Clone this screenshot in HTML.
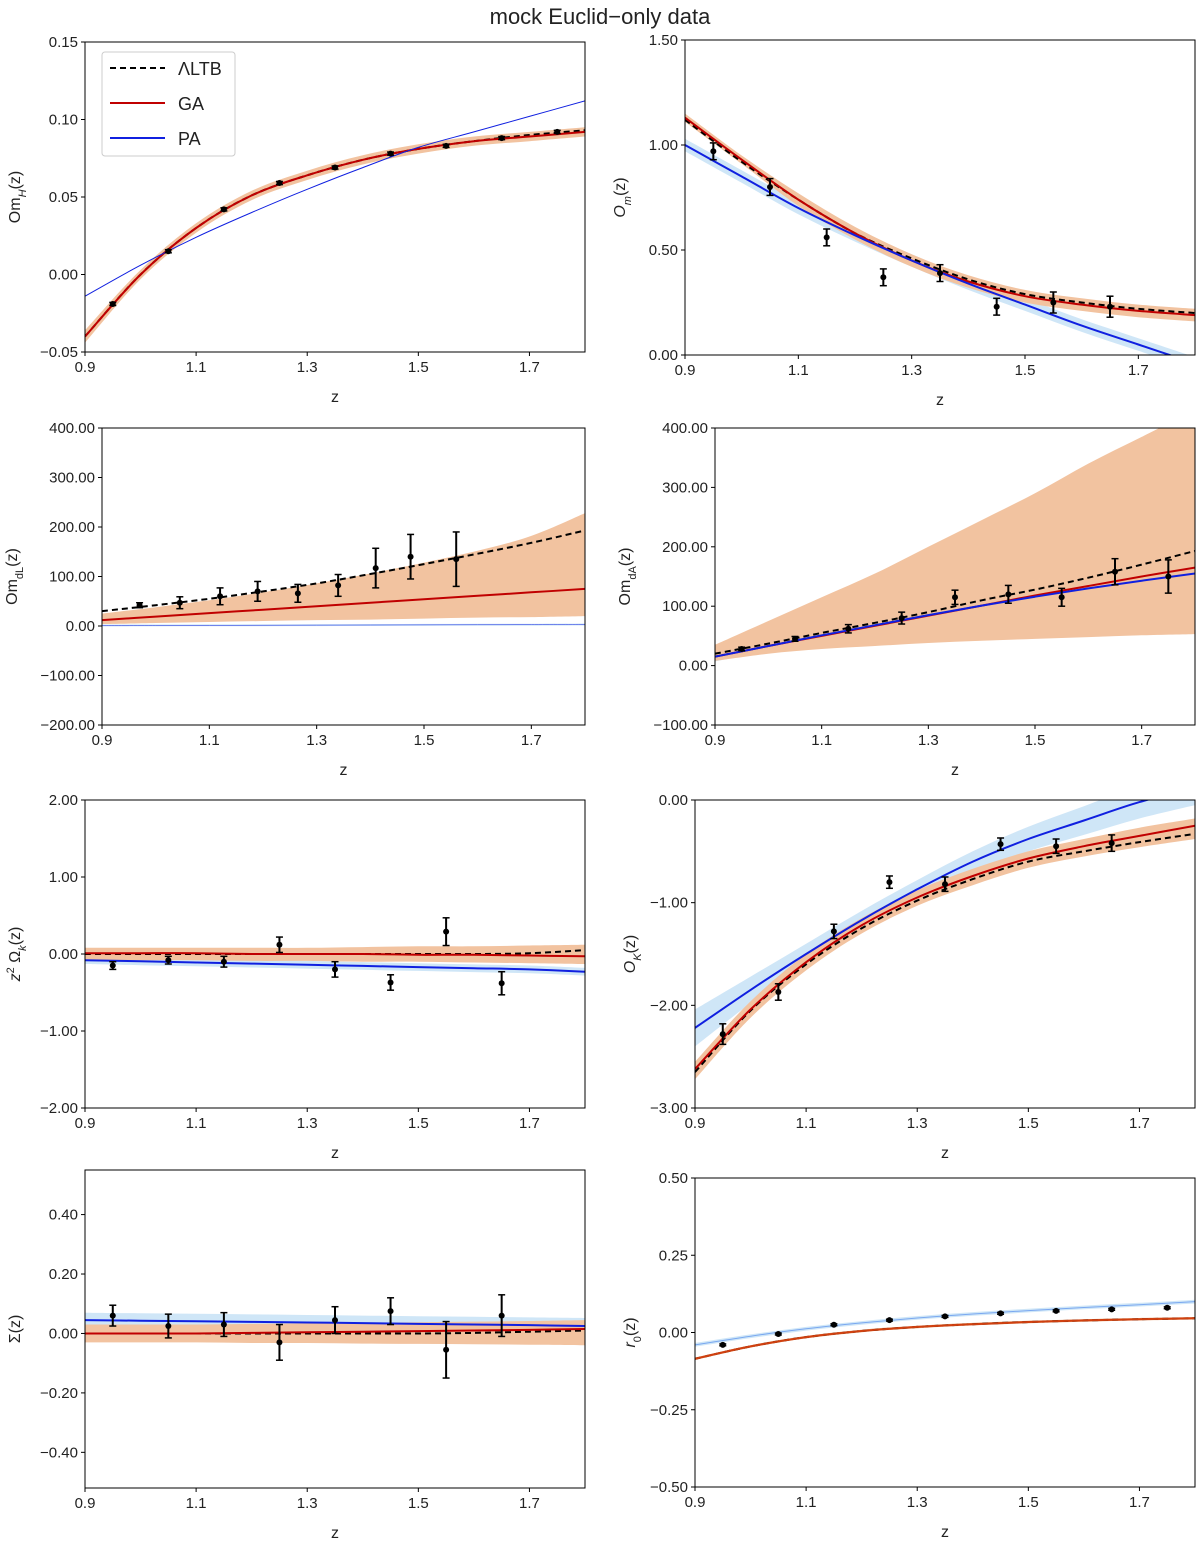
<!DOCTYPE html>
<html><head><meta charset="utf-8"><style>
body{margin:0;background:#fff;font-family:"Liberation Sans",sans-serif}
svg text{font-family:"Liberation Sans","DejaVu Sans",sans-serif;fill:#222}
</style></head><body>
<svg id="fig" width="1200" height="1540" viewBox="0 0 1200 1540" xmlns="http://www.w3.org/2000/svg">
<text x="600" y="24" text-anchor="middle" font-size="22">mock Euclid−only data</text>
</svg>
<script>
const Zg=[0.9,1.0,1.1,1.2,1.3,1.4,1.5,1.6,1.7,1.8];
const Zp=[0.95,1.05,1.15,1.25,1.35,1.45,1.55,1.65,1.75];
// Panel 1 OmH
const p1_ltb=[-0.040,0.000,0.030,0.051,0.064,0.074,0.081,0.086,0.090,0.093];
const p1_ga=[-0.040,0.000,0.030,0.051,0.064,0.074,0.081,0.086,0.089,0.092];
const p1_pa=[-0.014,0.006,0.024,0.040,0.055,0.069,0.082,0.092,0.102,0.112];
const p1_gaLo=[-0.044,-0.003,0.027,0.048,0.061,0.071,0.078,0.083,0.086,0.089];
const p1_gaHi=[-0.036,0.003,0.033,0.054,0.067,0.077,0.084,0.089,0.092,0.095];
const p1_pz=Zp;
const p1_pv=[-0.019,0.015,0.042,0.059,0.069,0.078,0.083,0.088,0.092];
const p1_pe=[0.001,0.001,0.001,0.001,0.001,0.001,0.001,0.001,0.001];
// Panel 2 Om
const p2_ltb=[1.12,0.92,0.74,0.58,0.46,0.36,0.29,0.25,0.22,0.20];
const p2_ga=[1.13,0.93,0.74,0.58,0.45,0.35,0.28,0.24,0.21,0.19];
const p2_pa=[1.00,0.85,0.70,0.57,0.45,0.34,0.24,0.14,0.05,-0.04];
const p2_gaLo=[1.11,0.91,0.71,0.55,0.42,0.32,0.25,0.21,0.18,0.16];
const p2_gaHi=[1.15,0.95,0.77,0.61,0.48,0.38,0.31,0.27,0.24,0.22];
const p2_pz=Zp.slice(0,8);
const p2_pv=[0.97,0.80,0.56,0.37,0.39,0.23,0.25,0.23];
const p2_pe=[0.04,0.04,0.04,0.04,0.04,0.04,0.05,0.05];
// Panel 3 OmdL
const p3_ltb=[30,42,55,70,86,105,125,146,168,193];
const p3_ga=[12,19,26,33,40,47,54,61,68,75];
const p3_pa=[1,1.2,1.4,1.6,1.8,2,2.2,2.4,2.6,3];
const p3_gaLo=[4,6,8,10,12,13,15,17,18,20];
const p3_gaHi=[25,38,52,68,86,106,128,152,182,228];
const p3_pz=[0.97,1.045,1.12,1.19,1.265,1.34,1.41,1.475,1.56];
const p3_pv=[42,47,60,70,66,82,117,140,135];
const p3_pe=[5,12,17,20,18,22,40,45,55];
// Panel 4 OmdA
const p4_ltb=[20,37,55,72,90,110,128,148,170,193];
const p4_ga=[15,33,50,67,84,101,118,134,150,165];
const p4_pa=[15,33,51,68,85,101,116,130,143,155];
const p4_gaLo=[8,20,28,33,38,42,45,48,51,53];
const p4_gaHi=[35,75,115,155,200,245,290,340,385,430];
const p4_pz=Zp;
const p4_pv=[28,45,62,80,115,120,115,158,150];
const p4_pe=[3,4,7,10,12,15,15,22,28];
// Panel 5 z^2 Omega_k
const p5_ltb=[0,0,0,0,0,0,0,0,0.01,0.05];
const p5_ga=[0.01,0.01,0.01,0,0,0,-0.01,-0.01,-0.02,-0.03];
const p5_pa=[-0.08,-0.095,-0.11,-0.125,-0.14,-0.155,-0.17,-0.185,-0.2,-0.23];
const p5_gaLo=[-0.08,-0.08,-0.08,-0.09,-0.09,-0.1,-0.1,-0.11,-0.12,-0.13];
const p5_gaHi=[0.08,0.08,0.08,0.08,0.08,0.09,0.1,0.1,0.11,0.12];
const p5_pz=Zp.slice(0,8);
const p5_pv=[-0.15,-0.08,-0.10,0.12,-0.20,-0.37,0.29,-0.38];
const p5_pe=[0.05,0.05,0.07,0.10,0.10,0.10,0.18,0.15];
// Panel 6 OK
const p6_ltb=[-2.65,-2.05,-1.60,-1.25,-0.98,-0.77,-0.60,-0.50,-0.41,-0.33];
const p6_ga=[-2.62,-2.04,-1.58,-1.22,-0.95,-0.74,-0.57,-0.45,-0.35,-0.25];
const p6_pa=[-2.22,-1.85,-1.50,-1.17,-0.87,-0.60,-0.38,-0.20,-0.02,0.12];
const p6_gaLo=[-2.72,-2.12,-1.66,-1.30,-1.03,-0.83,-0.66,-0.55,-0.46,-0.38];
const p6_gaHi=[-2.55,-1.96,-1.50,-1.15,-0.88,-0.67,-0.50,-0.38,-0.27,-0.18];
const p6_paLo=[-2.40,-1.98,-1.60,-1.26,-0.96,-0.70,-0.50,-0.34,-0.18,-0.05];
const p6_paHi=[-2.04,-1.72,-1.40,-1.08,-0.78,-0.50,-0.26,-0.06,0.14,0.30];
const p6_pz=Zp.slice(0,8);
const p6_pv=[-2.28,-1.87,-1.28,-0.80,-0.82,-0.43,-0.45,-0.42];
const p6_pe=[0.10,0.08,0.07,0.06,0.07,0.06,0.07,0.08];
// Panel 7 Sigma
const p7_ltb=[0,0,0,0,0,0,0,0.002,0.006,0.01];
const p7_ga=[0,0,0,0.002,0.004,0.006,0.008,0.01,0.012,0.015];
const p7_pa=[0.045,0.043,0.041,0.039,0.037,0.035,0.032,0.03,0.028,0.025];
const p7_gaLo=[-0.03,-0.03,-0.03,-0.032,-0.032,-0.034,-0.035,-0.036,-0.038,-0.04];
const p7_gaHi=[0.03,0.03,0.03,0.032,0.034,0.036,0.038,0.04,0.042,0.045];
const p7_paLo=[0.02,0.018,0.016,0.014,0.012,0.01,0.008,0.006,0.004,0.002];
const p7_paHi=[0.07,0.068,0.066,0.064,0.062,0.06,0.058,0.056,0.054,0.052];
const p7_pz=Zp.slice(0,8);
const p7_pv=[0.06,0.025,0.03,-0.03,0.045,0.075,-0.055,0.06];
const p7_pe=[0.035,0.04,0.04,0.06,0.045,0.045,0.095,0.07];
// Panel 8 r0
const p8_ltb=[-0.085,-0.045,-0.015,0.005,0.018,0.027,0.034,0.039,0.043,0.046];
const p8_ga=[-0.085,-0.045,-0.015,0.005,0.018,0.027,0.034,0.039,0.043,0.046];
const p8_pa=[-0.040,-0.012,0.012,0.031,0.047,0.060,0.071,0.081,0.090,0.100];
const p8_pz=Zp;
const p8_pv=[-0.04,-0.005,0.025,0.04,0.052,0.062,0.07,0.075,0.08];
const p8_pe=[0.003,0.003,0.003,0.003,0.003,0.003,0.003,0.003,0.003];

const NS="http://www.w3.org/2000/svg";
const fig=document.getElementById('fig');
function mk(tag,attrs,parent){const e=document.createElementNS(NS,tag);for(const k in attrs)e.setAttribute(k,attrs[k]);(parent||fig).appendChild(e);return e;}
function smooth(P,move){
 let d=(move?'M':'L')+P[0][0].toFixed(1)+','+P[0][1].toFixed(1);
 for(let i=0;i<P.length-1;i++){
  const p0=P[Math.max(0,i-1)],p1=P[i],p2=P[i+1],p3=P[Math.min(P.length-1,i+2)];
  const c1=[p1[0]+(p2[0]-p0[0])/6,p1[1]+(p2[1]-p0[1])/6];
  const c2=[p2[0]-(p3[0]-p1[0])/6,p2[1]-(p3[1]-p1[1])/6];
  d+=' C'+c1.map(v=>v.toFixed(1)).join(',')+' '+c2.map(v=>v.toFixed(1)).join(',')+' '+p2[0].toFixed(1)+','+p2[1].toFixed(1);
 }
 return d;
}
const xt=[0.9,1.1,1.3,1.5,1.7];
const panels=[
 {n:'omh',L:85,R:585,T:42,B:352,y0:-0.05,y1:0.15,yt:[-0.05,0,0.05,0.10,0.15],lab:'Om<tspan font-style="italic" baseline-shift="sub" font-size="11">H</tspan>(z)',ltb:p1_ltb,ga:p1_ga,pa:p1_pa,gl:p1_gaLo,gh:p1_gaHi,pz:p1_pz,pv:p1_pv,pe:p1_pe,paw:1,legend:true},
 {n:'om',L:685,R:1195,T:40,B:355,y0:0,y1:1.5,yt:[0,0.5,1.0,1.5],lab:'<tspan font-style="italic">O</tspan><tspan font-style="italic" baseline-shift="sub" font-size="11">m</tspan>(z)',ltb:p2_ltb,ga:p2_ga,pa:p2_pa,gl:p2_gaLo,gh:p2_gaHi,pz:p2_pz,pv:p2_pv,pe:p2_pe,pal:p2_pa.map(v=>v-0.03),pah:p2_pa.map(v=>v+0.03)},
 {n:'omdl',L:102,R:585,T:428,B:725,y0:-200,y1:400,yt:[-200,-100,0,100,200,300,400],lab:'Om<tspan baseline-shift="sub" font-size="11">dL</tspan>(z)',ltb:p3_ltb,ga:p3_ga,pa:p3_pa,gl:p3_gaLo,gh:p3_gaHi,pz:p3_pz,pv:p3_pv,pe:p3_pe,pal:p3_pa.map(v=>v-2),pah:p3_pa.map(v=>v+2),paw:0.5},
 {n:'omda',L:715,R:1195,T:428,B:725,y0:-100,y1:400,yt:[-100,0,100,200,300,400],lab:'Om<tspan baseline-shift="sub" font-size="11">dA</tspan>(z)',ltb:p4_ltb,ga:p4_ga,pa:p4_pa,gl:p4_gaLo,gh:p4_gaHi,pz:p4_pz,pv:p4_pv,pe:p4_pe,pal:p4_pa.map(v=>v-8),pah:p4_pa.map(v=>v+8)},
 {n:'z2omk',L:85,R:585,T:800,B:1108,y0:-2,y1:2,yt:[-2,-1,0,1,2],lab:'<tspan font-style="italic">z</tspan><tspan baseline-shift="super" font-size="11">2</tspan> Ω<tspan font-style="italic" baseline-shift="sub" font-size="11">k</tspan>(z)',ltb:p5_ltb,ga:p5_ga,pa:p5_pa,gl:p5_gaLo,gh:p5_gaHi,pz:p5_pz,pv:p5_pv,pe:p5_pe,pal:p5_pa.map(v=>v-0.05),pah:p5_pa.map(v=>v+0.05)},
 {n:'ok',L:695,R:1195,T:800,B:1108,y0:-3,y1:0,yt:[-3,-2,-1,0],lab:'<tspan font-style="italic">O</tspan><tspan font-style="italic" baseline-shift="sub" font-size="11">K</tspan>(z)',ltb:p6_ltb,ga:p6_ga,pa:p6_pa,gl:p6_gaLo,gh:p6_gaHi,pz:p6_pz,pv:p6_pv,pe:p6_pe,pal:p6_paLo,pah:p6_paHi},
 {n:'sigma',L:85,R:585,T:1170,B:1488,y0:-0.52,y1:0.55,yt:[-0.4,-0.2,0,0.2,0.4],lab:'Σ(z)',ltb:p7_ltb,ga:p7_ga,pa:p7_pa,gl:p7_gaLo,gh:p7_gaHi,pz:p7_pz,pv:p7_pv,pe:p7_pe,pal:p7_paLo,pah:p7_paHi},
 {n:'r0',L:695,R:1195,T:1178,B:1487,y0:-0.5,y1:0.5,yt:[-0.5,-0.25,0,0.25,0.5],lab:'<tspan font-style="italic">r</tspan><tspan baseline-shift="sub" font-size="11">0</tspan>(z)',ltb:p8_ltb,ga:p8_ga,pa:p8_pa,gl:p8_ga.map(v=>v-0.004),gh:p8_ga.map(v=>v+0.004),pz:p8_pz,pv:p8_pv,pe:p8_pe,pal:p8_pa.map(v=>v-0.006),pah:p8_pa.map(v=>v+0.006),paw:1,r0:true}
];
function fmt(v){const s=Math.abs(v).toFixed(2);return (v<-1e-9?'−':'')+s;}
panels.forEach((p,i)=>{
 const g=mk('g',{});
 
 
 const X=z=>p.L+(z-0.9)/0.9*(p.R-p.L);
 const Y=v=>p.B-(v-p.y0)/(p.y1-p.y0)*(p.B-p.T);
 const cid='clip'+i;
 const cp=mk('clipPath',{id:cid},g);mk('rect',{x:p.L,y:p.T,width:p.R-p.L,height:p.B-p.T},cp);
 const pg=mk('g',{'clip-path':'url(#'+cid+')'},g);
 const P=a=>a.map((v,k)=>[X(Zg[k]),Y(v)]);
 const band=(lo,hi,fill,name)=>{
  const d=smooth(P(hi),true)+' '+smooth(P(lo).reverse(),false)+' Z';
  const b=mk('path',{d:d,fill:fill,stroke:'none'},pg);
  
  };
 if(p.pal)band(p.pal,p.pah,'#cfe6f7','pa-band');
 band(p.gl,p.gh,p.r0?'#e8a070':'#f2c3a0','ga-band');
 const line=(a,col,w,dash,name)=>{const l=mk('path',{d:smooth(P(a),true),fill:'none',stroke:col,'stroke-width':w},pg);if(dash)l.setAttribute('stroke-dasharray',dash);
  
  };
 line(p.ltb,'#000',2,'6,4','ltb-line');
 line(p.ga,p.r0?'#d04010':'#c00000',2,null,'ga-line');
 line(p.pa,p.r0?'#7aa8f0':'#1020e0',p.paw||2,null,'pa-line');
 p.pz.forEach((z,k)=>{
  const x=X(z),y=Y(p.pv[k]),e=p.pe[k];
  const eb=mk('g',{},pg);
  
  
  const y1=Y(p.pv[k]+e),y2=Y(p.pv[k]-e);
  mk('line',{x1:x,x2:x,y1:y1,y2:y2,stroke:'#000','stroke-width':2},eb);
  mk('line',{x1:x-3.5,x2:x+3.5,y1:y1,y2:y1,stroke:'#000','stroke-width':1.5},eb);
  mk('line',{x1:x-3.5,x2:x+3.5,y1:y2,y2:y2,stroke:'#000','stroke-width':1.5},eb);
  mk('circle',{cx:x,cy:y,r:3,fill:'#000'},eb);
 });
 const fr=mk('rect',{x:p.L,y:p.T,width:p.R-p.L,height:p.B-p.T,fill:'none',stroke:'#000','stroke-width':1},g);
 
 
 xt.forEach(z=>{const x=X(z);mk('line',{x1:x,x2:x,y1:p.B,y2:p.B+4,stroke:'#000'},g);
  const t=mk('text',{x:x,y:p.B+20,'text-anchor':'middle','font-size':15},g);t.textContent=z.toFixed(1);
  
  });
 p.yt.forEach(v=>{const y=Y(v);mk('line',{x1:p.L-4,x2:p.L,y1:y,y2:y,stroke:'#000'},g);
  const t=mk('text',{x:p.L-7,y:y+5,'text-anchor':'end','font-size':15},g);t.textContent=fmt(v);
  
  });
 const xlb=mk('text',{x:(p.L+p.R)/2,y:p.B+50,'text-anchor':'middle','font-size':16},g);xlb.textContent='z';
 
 
 const lx=p.L-(p.yt.some(v=>Math.abs(v)>=100)?85:60)+(p.n==='omh'||p.n==='z2omk'||p.n==='sigma'?-5:0);
 const yl=mk('text',{x:0,y:0,'text-anchor':'middle','font-size':16,transform:'translate('+(lx)+','+((p.T+p.B)/2)+') rotate(-90)'},g);
 yl.innerHTML=p.lab;
 
 
 if(p.legend){
  const lg=mk('g',{},g);
  
  
  mk('rect',{x:102,y:52,width:133,height:104,rx:3,fill:'#fff',stroke:'#ccc'},lg);
  [['ΛLTB','#000','6,4',68],['GA','#c00000',null,103],['PA','#1020e0',null,138]].forEach(en=>{
   const e=mk('g',{},lg);
   
   
   const l=mk('line',{x1:110,x2:165,y1:en[3],y2:en[3],stroke:en[1],'stroke-width':2},e);if(en[2])l.setAttribute('stroke-dasharray',en[2]);
   const t=mk('text',{x:178,y:en[3]+7,'font-size':18},e);t.textContent=en[0];
  });
 }
});
</script>
</body></html>
